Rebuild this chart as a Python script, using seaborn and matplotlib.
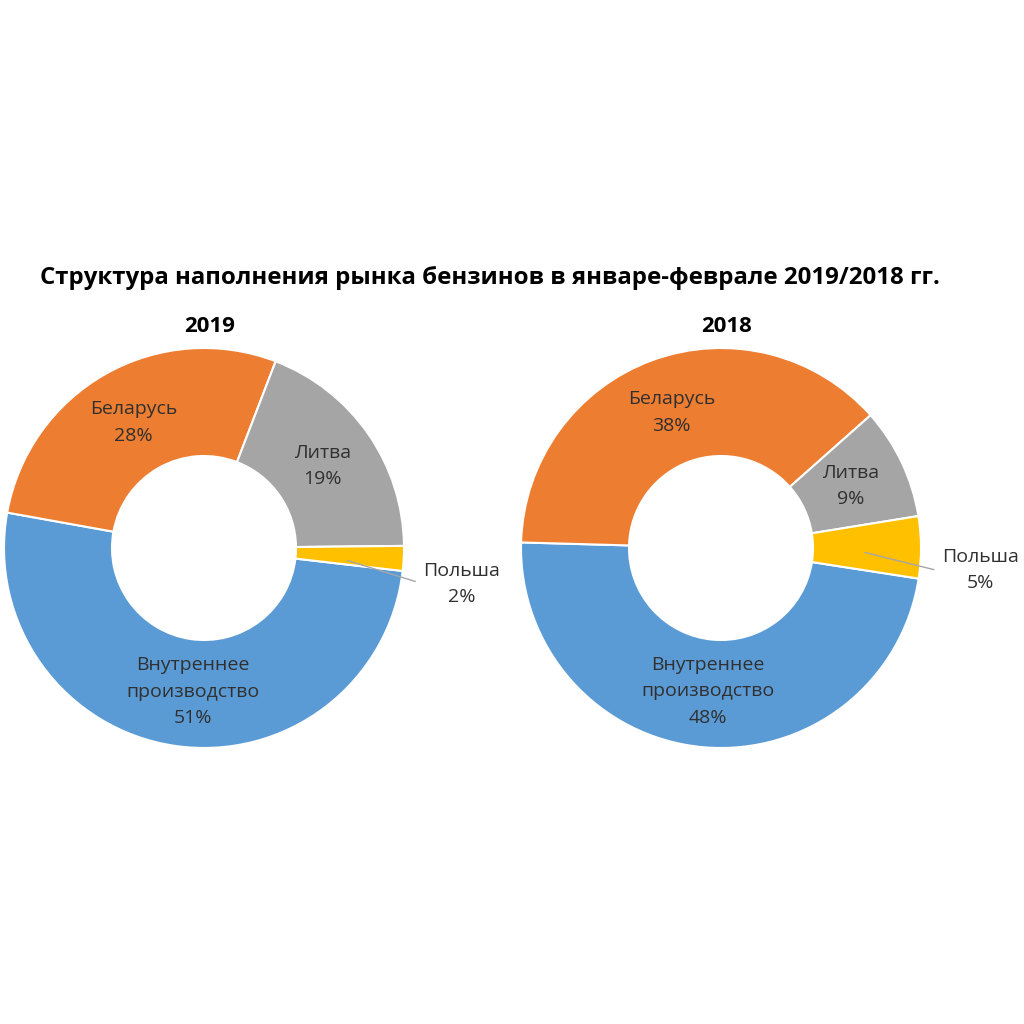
import numpy as np
import matplotlib.pyplot as plt
import seaborn as sns

# data
categories = ['Внутреннее\nпроизводство', 'Беларусь', 'Литва', 'Польша']
share_2019 = [51, 28, 19, 2]
share_2018 = [48, 38, 9, 5]
years = ['2019', '2018']
title = 'Структура наполнения рынка бензинов в январе-феврале 2019/2018 гг.'

colors = ['#5B9BD5', '#ED7D31', '#A5A5A5', '#FFC000']

sns.set_theme(style='white')
plt.rcParams['font.family'] = ['Open Sans', 'DejaVu Sans']

W = 1024
fig = plt.figure(figsize=(10.24, 10.24), dpi=100)
fig.patch.set_facecolor('white')

# first-slice angle (clockwise from 12 o'clock) and axes placement in pixels
first_angle = [96.6, 98.8]
centers = [(204, 548), (721, 548)]
R = 200
hole = 0.46
lab_color = '#303030'


def donut(ax, vals, start):
    ax.pie(vals, colors=sns.color_palette(colors), startangle=90 - start,
           counterclock=False, radius=1,
           wedgeprops=dict(width=1 - hole, edgecolor='white', linewidth=1.5))
    ax.set_xlim(-1, 1)
    ax.set_ylim(-1, 1)
    ax.set_aspect('equal')
    ax.axis('off')
    total = float(sum(vals))
    cum = start
    rmid = (1 + hole) / 2 - 0.01
    for lab, v in zip(categories, vals):
        span = 360 * v / total
        mid = np.deg2rad(cum + span / 2)
        txt = f'{lab}\n{v}%'
        if span < 25:
            a_txt = mid + np.deg2rad(5)
            ax.text(1.3 * np.sin(a_txt), 1.3 * np.cos(a_txt), txt,
                    ha='center', va='center', fontsize=14, color=lab_color,
                    linespacing=1.6)
            a0 = mid + np.deg2rad(2)
            a1 = mid + np.deg2rad(6)
            ax.plot([rmid * np.sin(a0), 1.07 * np.sin(a1)],
                    [rmid * np.cos(a0), 1.07 * np.cos(a1)],
                    color='#A6A6A6', lw=1, clip_on=False)
        else:
            if span > 180:
                mid -= np.deg2rad(4)
            ax.text(rmid * np.sin(mid), rmid * np.cos(mid), txt,
                    ha='center', va='center', fontsize=14, color=lab_color,
                    linespacing=1.6)
        cum += span


for i, vals in enumerate([share_2019, share_2018]):
    cx, cy = centers[i]
    ax = fig.add_axes([(cx - R) / W, (W - cy - R) / W, 2 * R / W, 2 * R / W])
    donut(ax, vals, first_angle[i])
    fig.text(cx / W + 0.005, 1 - 327 / W, years[i], ha='center', va='center',
             fontsize=16, fontweight='bold', color='black')

fig.text(490 / W, 1 - 278 / W, title, ha='center', va='center',
         fontsize=17.3, fontweight='bold', color='black')

fig.savefig('out.png', dpi=100, facecolor='white')
